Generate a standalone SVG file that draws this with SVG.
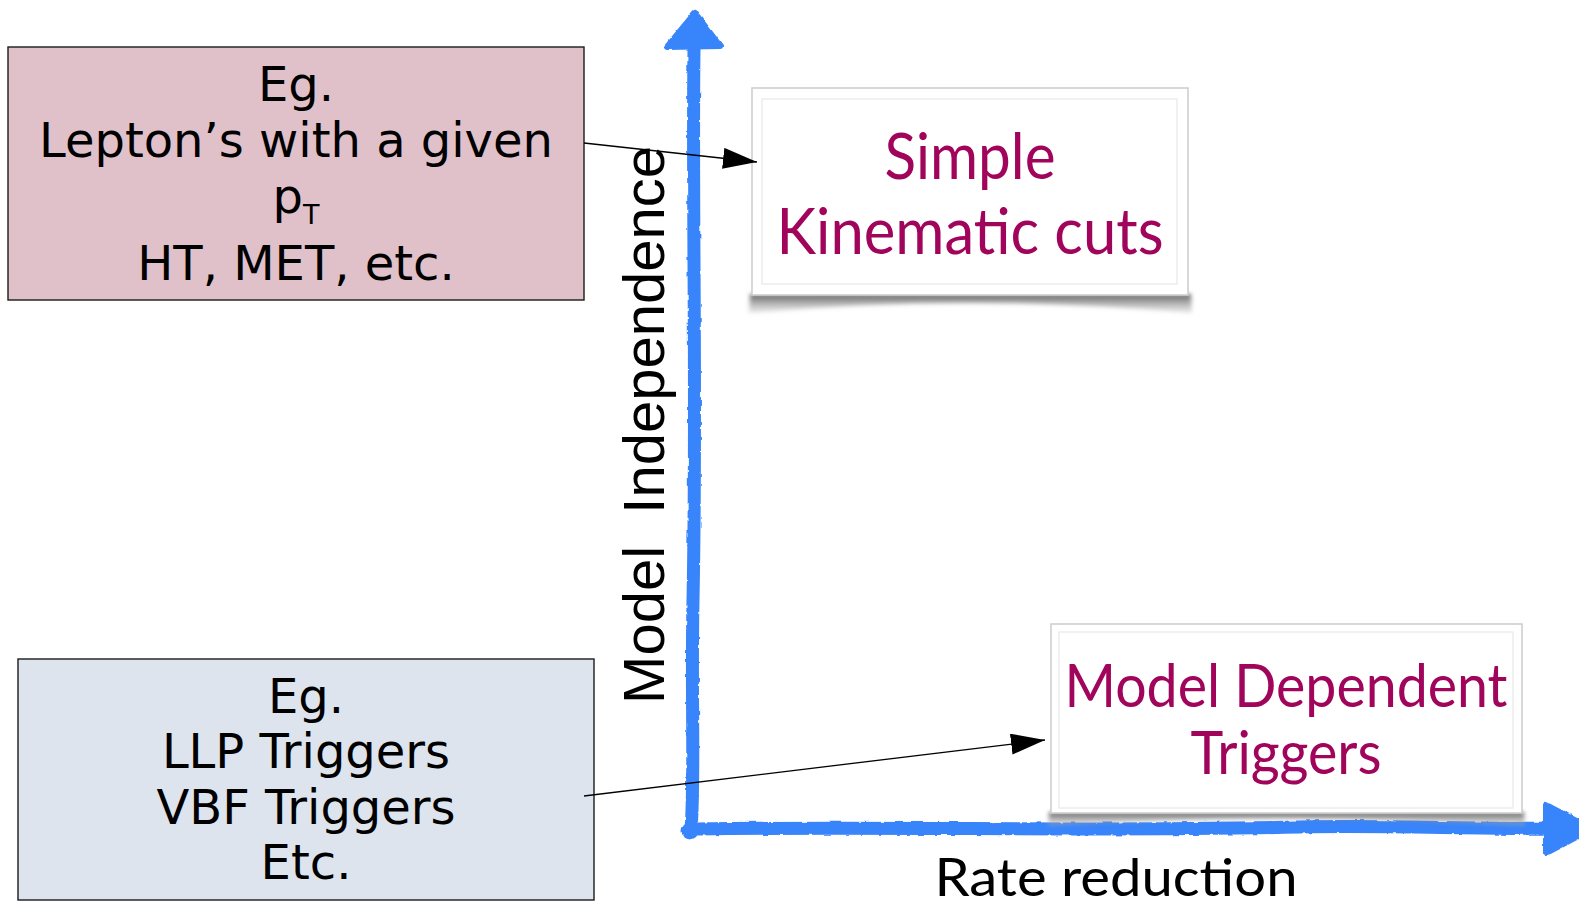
<svg xmlns="http://www.w3.org/2000/svg" width="1579" height="907" viewBox="0 0 1579 907">
  <style>
    .note { stroke: #1a1a1a; stroke-width: 1.4; }
    .note-text { font-family: "DejaVu Sans", "Liberation Sans", sans-serif; font-size: 48px; fill: #000; text-anchor: middle; }
    .card-outer { fill: #ffffff; stroke: #cfcfcf; stroke-width: 1.6; }
    .card-inner { fill: none; stroke: #e8e8e8; stroke-width: 1.2; }
    .card-text { font-family: "Lato", "Open Sans", sans-serif; fill: #a1045b; text-anchor: middle; }
    .axis { fill: none; stroke: #3884fb; stroke-width: 13; stroke-linecap: round; stroke-linejoin: round; }
    .axis-head { fill: #3884fb; stroke: #3884fb; stroke-width: 6; stroke-linejoin: round; }
    .axis-label { font-family: "Lato", "Open Sans", sans-serif; fill: #000; }
    .link { fill: none; stroke: #000; stroke-width: 1.3; }
  </style>
  <defs>
    <marker id="arrow" markerUnits="userSpaceOnUse" markerWidth="35" markerHeight="22" refX="34" refY="10.5" orient="auto">
      <path d="M0,0 L34,10.5 L0,21 Z" fill="#000"/>
    </marker>
    <filter id="rough" x="-5%" y="-5%" width="110%" height="110%">
      <feTurbulence type="fractalNoise" baseFrequency="0.12" numOctaves="2" seed="3" result="noise"/>
      <feDisplacementMap in="SourceGraphic" in2="noise" scale="3" xChannelSelector="R" yChannelSelector="G"/>
    </filter>
    <filter id="soft" x="-10%" y="-100%" width="120%" height="300%">
      <feGaussianBlur stdDeviation="2"/>
    </filter>
    <linearGradient id="shade" x1="0" y1="0" x2="0" y2="1">
      <stop offset="0" stop-color="#5e5e5e"/>
      <stop offset="1" stop-color="#b8b8b8" stop-opacity="0.3"/>
    </linearGradient>
  </defs>

  <!-- hand-drawn axes -->
  <g id="axes" filter="url(#rough)">
    <path class="axis" d="M694,50 C692,200 697,400 693,600 C691,700 695,780 691,829 L697,829 C900,826 1100,832 1300,827 C1400,825 1480,830 1546,828"/>
    <circle cx="690" cy="831" r="8.5" fill="#3884fb"/>
    <polygon class="axis-head" points="695,13 667,47 720,46"/>
    <polygon class="axis-head" points="1546,805 1546,853 1592,829"/>
  </g>

  <!-- axis labels -->
  <g id="label-y">
    <text x="0" y="0" transform="translate(664,425) rotate(-90)" font-family="Liberation Sans, Arial, sans-serif" font-size="58" text-anchor="middle" xml:space="preserve">Model  Independence</text>
  </g>
  <g id="label-x">
    <text class="axis-label" x="1116" y="896" font-size="52" text-anchor="middle" textLength="363" lengthAdjust="spacingAndGlyphs">Rate reduction</text>
  </g>

  <!-- example note: kinematic cuts -->
  <g id="note-kinematic">
    <rect class="note" x="8" y="47" width="576" height="253" fill="#e0c1ca"/>
    <text class="note-text" x="296" y="101">Eg.</text>
    <text class="note-text" x="296" y="157">Lepton’s with a given</text>
    <text class="note-text" x="296" y="213">p<tspan font-size="27" dy="11">T</tspan></text>
    <text class="note-text" x="296" y="280">HT, MET, etc.</text>
  </g>

  <!-- example note: dedicated triggers -->
  <g id="note-triggers">
    <rect class="note" x="18" y="659" width="576" height="241" fill="#dde4ee"/>
    <text class="note-text" x="306" y="713">Eg.</text>
    <text class="note-text" x="306" y="768">LLP Triggers</text>
    <text class="note-text" x="306" y="824">VBF Triggers</text>
    <text class="note-text" x="306" y="879">Etc.</text>
  </g>

  <!-- card: simple kinematic cuts -->
  <g id="card-simple">
    <path d="M750,294 L1191,294 L1192,313 Q970,293 749,313 Z" fill="url(#shade)" filter="url(#soft)"/>
    <rect class="card-outer" x="752" y="88" width="436" height="207"/>
    <rect class="card-inner" x="762" y="99" width="415" height="185"/>
    <text class="card-text" x="970" y="179" font-size="64" textLength="171" lengthAdjust="spacingAndGlyphs">Simple</text>
    <text class="card-text" x="970" y="254" font-size="64" textLength="387" lengthAdjust="spacingAndGlyphs">Kinematic cuts</text>
  </g>

  <!-- card: model dependent triggers -->
  <g id="card-dependent">
    <path d="M1049,812 L1524,812 L1525,826 Q1286,811 1048,826 Z" fill="url(#shade)" filter="url(#soft)"/>
    <rect class="card-outer" x="1051" y="624" width="471" height="189"/>
    <rect class="card-inner" x="1059" y="632" width="454" height="176"/>
    <text class="card-text" x="1286" y="707" font-size="60" textLength="443" lengthAdjust="spacingAndGlyphs">Model Dependent</text>
    <text class="card-text" x="1286" y="774" font-size="60" textLength="191" lengthAdjust="spacingAndGlyphs">Triggers</text>
  </g>

  <!-- connectors -->
  <g id="connectors">
    <line class="link" x1="584" y1="143" x2="757" y2="162" marker-end="url(#arrow)"/>
    <line class="link" x1="584" y1="796" x2="1045" y2="740" marker-end="url(#arrow)"/>
  </g>
</svg>
